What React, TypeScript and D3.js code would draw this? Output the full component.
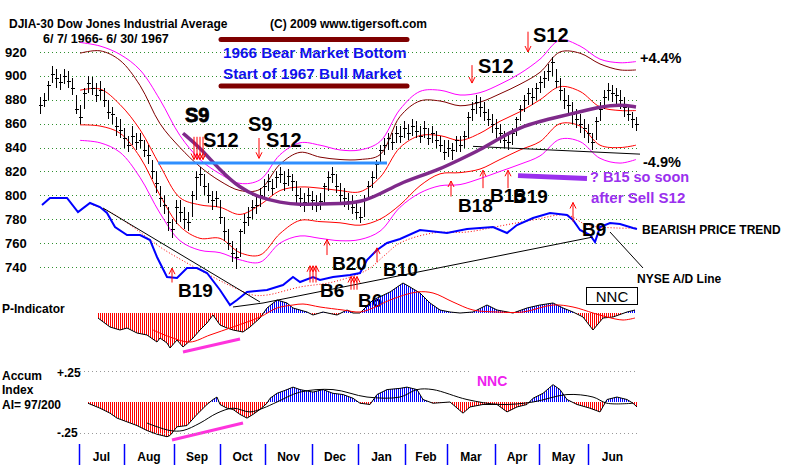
import React, { Component } from "react";
import * as d3 from "d3";

// DJIA bars, Jun 7 1966 - Jun 30 1967
const highs = [
  882, 886, 896, 908, 906, 902, 906, 904, 898, 884,
  876, 890, 900, 899, 894, 896, 890, 880, 874, 866,
  864, 856, 850, 858, 852, 852, 846, 842, 830, 820,
  808, 800, 790, 780, 796, 796, 790, 786, 804, 820,
  824, 818, 810, 804, 804, 796, 782, 772, 762, 756,
  772, 784, 790, 796, 800, 806, 814, 818, 814, 820,
  824, 820, 822, 818, 812, 806, 802, 806, 804, 800,
  802, 810, 820, 824, 818, 810, 806, 802, 800, 794,
  790, 800, 812, 820, 830, 842, 848, 852, 852, 858,
  858, 862, 860, 864, 862, 858, 862, 856, 858, 854,
  850, 846, 846, 844, 850, 850, 854, 870, 878, 884,
  882, 878, 872, 868, 864, 860, 854, 852, 856, 866,
  876, 884, 890, 890, 894, 900, 904, 910, 916, 906,
  898, 890, 884, 878, 872, 868, 864, 860, 852, 866,
  878, 888, 894, 892, 890, 888, 882, 876, 870, 866,
];
const lows = [
  868, 874, 880, 894, 890, 888, 893, 890, 884, 868,
  860, 872, 886, 884, 878, 880, 874, 864, 860, 850,
  848, 840, 836, 842, 838, 840, 832, 826, 814, 802,
  790, 784, 770, 764, 776, 778, 772, 770, 782, 796,
  808, 800, 794, 788, 790, 776, 762, 754, 744, 738,
  748, 768, 774, 780, 784, 790, 798, 804, 800, 806,
  810, 804, 808, 804, 794, 790, 786, 792, 788, 786,
  788, 794, 804, 810, 802, 794, 790, 788, 784, 780,
  777, 782, 796, 806, 814, 826, 834, 838, 838, 844,
  844, 848, 846, 850, 848, 844, 848, 842, 844, 840,
  836, 830, 832, 830, 836, 836, 840, 848, 862, 868,
  866, 862, 858, 852, 848, 844, 840, 838, 842, 850,
  862, 870, 876, 876, 880, 886, 890, 896, 900, 890,
  880, 872, 868, 860, 856, 852, 848, 844, 838, 846,
  862, 872, 880, 878, 876, 872, 866, 862, 856, 854,
];
const closes = [
  876, 880, 892, 902, 898, 895, 900, 896, 890, 872,
  866, 886, 894, 890, 884, 888, 880, 870, 868, 858,
  855, 848, 842, 850, 845, 846, 838, 834, 820, 810,
  798, 792, 778, 772, 790, 786, 780, 778, 800, 815,
  818, 808, 800, 796, 798, 782, 770, 760, 752, 748,
  770, 778, 782, 790, 792, 800, 808, 812, 806, 815,
  818, 810, 816, 812, 800, 798, 794, 800, 796, 792,
  795, 808, 815, 818, 808, 800, 798, 795, 790, 786,
  782, 796, 808, 815, 826, 838, 842, 848, 845, 852,
  850, 856, 852, 858, 854, 850, 856, 848, 852, 846,
  842, 836, 840, 838, 846, 842, 850, 866, 872, 878,
  874, 870, 864, 860, 856, 852, 846, 845, 852, 864,
  872, 880, 886, 882, 890, 895, 898, 904, 912, 896,
  888, 880, 876, 868, 864, 860, 856, 852, 845, 862,
  872, 882, 888, 886, 884, 880, 874, 868, 864, 860,
];

const priceTicks = [920, 900, 880, 860, 840, 820, 800, 780, 760, 740];
const monthNames = ["Jul", "Aug", "Sep", "Oct", "Nov", "Dec", "Jan", "Feb", "Mar", "Apr", "May", "Jun"];
const monthStarts = [9.75, 21, 33.5, 45, 56.25, 68, 79.5, 91.25, 101.75, 113.75, 124.75, 137];
const lastDay = 149.25;

// percentage bands around the 21-day average
const bandDays = [10, 15, 20, 25, 30, 35, 40, 45, 50, 55, 60, 65, 70, 75, 80, 85, 90, 95, 100, 105, 110, 115, 120, 125, 130, 135, 140, 145, 149];
const magentaUpper = [928, 925, 918, 905, 880, 850, 830, 818, 810, 813, 834, 844, 842, 838, 838, 845, 872, 887, 888, 884, 886, 893, 902, 914, 930, 925, 914, 911, 912];
const maroonUpper = [919, 921, 913, 892, 860, 840, 824, 812, 804, 805, 826, 836, 832, 830, 830, 834, 866, 879, 879, 875, 878, 885, 893, 903, 920, 919, 910, 905, 905];
const redUpper = [888, 889, 876, 855, 825, 798, 792, 790, 784, 792, 804, 807, 806, 804, 803, 815, 840, 850, 850, 846, 852, 862, 870, 880, 891, 887, 874, 871, 871];
const redLower = [859, 858, 852, 832, 800, 774, 764, 764, 752, 750, 768, 779, 778, 777, 775, 780, 792, 808, 818, 819, 822, 830, 838, 845, 860, 858, 842, 840, 842];
const magentaLower = [846, 844, 836, 815, 785, 762, 754, 752, 746, 744, 760, 766, 764, 762, 763, 770, 790, 802, 808, 809, 814, 820, 826, 833, 847, 845, 831, 827, 830];

// 65-day moving average
const maDays = [35.75, 40, 45, 50, 55, 60, 65, 70, 75, 80, 85, 90, 95, 100, 105, 110, 115, 120, 125, 130, 135, 140, 145, 149];
const maValues = [852, 840, 821, 806, 798, 794, 792, 793, 793, 794, 801, 810, 816, 822, 830, 838, 848, 857, 862, 866, 870, 874, 876, 874];

// NYSE A/D line and its average
const adDays = [0.5, 2.5, 6.75, 9.5, 12.5, 15, 16.75, 18.75, 21.75, 25, 27.5, 29.25, 31.75, 34.25, 36.75, 39.25, 41.75, 45, 47.5, 49.25, 51.75, 56.75, 60.75, 63.25, 65, 68.25, 70, 73.25, 77.5, 80, 81.75, 84.25, 86.75, 90, 95, 101.75, 106.75, 113.25, 116.75, 119.25, 123.25, 127.5, 131.75, 133.25, 135, 137.5, 138.75, 140, 142.5, 145, 148.25, 149.25];
const adValues = [105, 112, 112, 98, 107, 103, 97, 83, 75, 75, 70, 53, 33, 32, 42, 42, 37, 20, 5, 10, 18, 20, 25, 33, 28, 33, 30, 33, 35, 37, 50, 60, 67, 71, 80, 77, 81, 83, 77, 85, 92, 97, 95, 90, 80, 75, 68, 83, 87, 86, 82, 81];
const adMaDays = [13.25, 17.5, 23.25, 30, 36.75, 43.25, 48.25, 53.25, 56.75, 65, 73.25, 81.75, 86.25, 90, 98.25, 106.75, 115, 123.25, 131.75, 136.75, 144.25, 149.25];
const adMaValues = [105, 98, 83, 63, 47, 33, 23, 15, 15, 23, 28, 40, 55, 67, 77, 78, 84, 90, 95, 85, 82, 82];

// P-Indicator and its average
const pDays = [14.5, 17.5, 20, 21.75, 24.25, 26.75, 29.25, 30, 31.75, 32.5, 34.25, 35.75, 38.25, 40, 41.75, 43.25, 45, 46.75, 48.25, 50.75, 52.5, 55, 56.75, 59.25, 61.75, 63.25, 66.75, 68.25, 70.75, 74.25, 76.75, 78.25, 80, 83.25, 87.5, 90.75, 92.5, 95, 97.5, 100, 102.5, 105, 108.25, 111.75, 114.25, 118.25, 121.75, 125, 128.25, 130.75, 133.25, 135.75, 138.25, 140.75, 143.25, 146.75, 148.75];
const pValues = [-5, -14, -17, -15, -20, -22, -29, -25, -30, -35, -27, -34, -25, -17, -10, -2, -12, -15, -17, -19, -14, -5, 5, 13, 10, 5, 1, -2, 1, -2, 3, 0, 0, 13, 21, 30, 26, 20, 10, 3, 1, 0, 1, 8, 3, 0, 5, 8, 10, 5, 1, -4, -17, -5, -4, 1, 3];
const pMaDays = [28.25, 32.5, 37.5, 42.5, 48.25, 55, 59.25, 63.25, 65.75, 70, 75.75, 80, 83.25, 87.5, 94.25, 98.25, 103.25, 108.25, 114.25, 120.75, 128.25, 133.25, 138.25, 141.75, 145.75, 148.75];
const pMaValues = [-17, -24, -29, -22, -14, -4, 5, 8, 9, 6, 3, 1, 5, 13, 21, 20, 11, 3, 1, 1, 8, 6, 0, -4, -7, -5];

// Accumulation Index and its average
const aiDays = [12, 15, 17.5, 19.25, 21.75, 24.25, 26.75, 29.25, 31.75, 32.5, 34.25, 36.75, 39.25, 41.75, 43.25, 44.25, 45, 46.75, 48.25, 50, 51.75, 53.25, 55, 56.75, 57.5, 59.25, 61.75, 63.25, 65, 68.25, 70.75, 73.25, 75.75, 78.25, 80, 82.5, 84.25, 86.75, 90, 91.75, 94.25, 95.75, 98.25, 102.5, 105.75, 107.5, 110.75, 114.25, 116.75, 119.25, 121.75, 123.25, 125.75, 128.25, 130, 131.75, 134.25, 137.5, 140, 141.75, 144.25, 146.75, 148.25, 149.25];
const aiValues = [-0.01, -0.05, -0.09, -0.13, -0.16, -0.19, -0.23, -0.26, -0.28, -0.27, -0.2, -0.19, -0.1, -0.02, 0.02, 0.04, -0.02, -0.05, -0.06, -0.1, -0.13, -0.1, -0.06, -0.01, 0.03, 0.07, 0.1, 0.12, 0.1, 0.08, 0.1, 0.07, 0.06, 0.03, -0.01, -0.02, 0.06, 0.1, 0.11, 0.12, 0.1, 0.02, -0.01, 0, -0.09, -0.04, -0.02, -0.02, -0.08, -0.04, -0.02, 0.03, 0.07, 0.14, 0.1, 0.02, -0.02, -0.05, -0.08, 0.02, 0.04, 0.02, -0.01, -0.04];
const aiMaDays = [26.75, 32.5, 35.75, 40, 44.25, 48.25, 52.5, 55.75, 59.25, 65, 73.25, 81.75, 90, 94.25, 98.25, 106.75, 115, 123.25, 131.75, 138.25, 141.75, 148.25];
const aiMaValues = [-0.17, -0.23, -0.23, -0.17, -0.09, -0.05, -0.08, -0.05, 0, 0.08, 0.1, 0.04, 0.04, 0.1, 0.1, 0.02, -0.02, 0, 0.06, 0.04, -0.01, -0.01];

// Peerless signals: [day, from, to] on the price scale
const sellArrows = [[38.5, 849, 830], [39.25, 849, 830], [40, 849, 830], [40.75, 849, 830], [54.75, 848, 831], [108, 909, 894], [122, 937, 920]];
const buyArrows = [[33, 727, 739], [67.5, 727, 741], [68.25, 727, 741], [69, 727, 741], [71.75, 750, 763], [77.75, 721, 732], [78.5, 721, 732], [79.25, 721, 732], [84.25, 744, 756], [102.75, 799, 812], [110.75, 806, 821], [117, 806, 821], [133.25, 778, 794]];

const FONT = "'Liberation Sans', Arial, sans-serif";

class App extends Component {
  svgRef = React.createRef<SVGSVGElement>();

  componentDidMount() {
    this.renderChart();
  }

  componentDidUpdate() {
    this.renderChart();
  }

  renderChart() {
    const svg = d3.select(this.svgRef.current);
    svg.selectAll("*").remove();
    svg.style("font-family", FONT);

    const x = d3.scaleLinear().domain([0, 149]).range([40, 636]);
    const py = d3.scaleLinear().domain([740, 920]).range([267, 52]);
    const ady = d3.scaleLinear().domain([0, 110]).range([310, 200]);
    const pIy = d3.scaleLinear().domain([-40, 40]).range([353, 273]);
    const aiy = d3.scaleLinear().domain([-0.25, 0.25]).range([433, 371]);

    const text = (tx: number, ty: number, s: string, size: number, fill = "#000", weight = "bold") =>
      svg.append("text")
        .attr("x", tx)
        .attr("y", ty)
        .attr("font-size", size)
        .attr("font-weight", weight)
        .attr("fill", fill)
        .text(s);

    // hatch patterns for the indicator histograms
    const defs = svg.append("defs");
    [["redHatch", "#ff0000"], ["blueHatch", "#0000ff"]].forEach(([id, c]) => {
      defs.append("pattern")
        .attr("id", id)
        .attr("width", 2)
        .attr("height", 4)
        .attr("patternUnits", "userSpaceOnUse")
        .append("rect")
        .attr("width", 1)
        .attr("height", 4)
        .attr("fill", c);
    });
    const clip = (id: string, y0: number, y1: number) =>
      defs.append("clipPath").attr("id", id)
        .append("rect").attr("x", 0).attr("y", y0).attr("width", 800).attr("height", y1 - y0);
    clip("pAbove", 250, pIy(0));
    clip("pBelow", pIy(0), 365);
    clip("aiAbove", 360, aiy(0));
    clip("aiBelow", aiy(0), 445);

    // header
    text(9, 28, "DJIA-30  Dow Jones Industrial Average", 12);
    text(270, 28, "(C) 2009 www.tigersoft.com", 12);
    text(43, 43, "6/ 7/ 1966- 6/ 30/ 1967", 12.5);

    [39.5, 86].forEach(yy => {
      svg.append("line")
        .attr("x1", 221).attr("x2", 407)
        .attr("y1", yy).attr("y2", yy)
        .attr("stroke", "#7f0000")
        .attr("stroke-width", 5)
        .attr("stroke-linecap", "round");
    });
    text(223, 58, "1966 Bear Market Bottom", 15.3, "#1010ee");
    text(223, 79, "Start of 1967 Bull Market", 15.3, "#1010ee");

    // price grid
    priceTicks.forEach(p => {
      svg.append("line")
        .attr("x1", 40).attr("x2", 637)
        .attr("y1", Math.round(py(p)) + 0.5).attr("y2", Math.round(py(p)) + 0.5)
        .attr("stroke", "#2f8f2f")
        .attr("stroke-dasharray", "1,3");
      text(5, py(p) + 4.5, String(p), 13);
    });

    const curve = (days: number[], vals: number[], yScale: any, color: string, width: number, dash?: string, c: any = d3.curveCatmullRom.alpha(0.5)) => {
      const line = d3.line<number>()
        .x((_, i) => x(days[i]))
        .y(v => yScale(v))
        .curve(c);
      const path = svg.append("path")
        .attr("d", line(vals))
        .attr("fill", "none")
        .attr("stroke", color)
        .attr("stroke-width", width);
      if (dash) path.attr("stroke-dasharray", dash);
      return path;
    };

    // bands
    curve(bandDays, magentaUpper, py, "#ff00ff", 1);
    curve(bandDays, maroonUpper, py, "#800000", 1);
    curve(bandDays, redUpper, py, "#ff0000", 1);
    curve(bandDays, redLower, py, "#ff0000", 1);
    curve(bandDays, magentaLower, py, "#ff00ff", 1);

    // A/D line
    curve(adMaDays, adMaValues, ady, "#ff0000", 1, "1,2");
    curve(adDays, adValues, ady, "#0000ff", 2, undefined, d3.curveLinear);

    // trendlines
    const seg = (d1: number, v1: number, d2: number, v2: number, yScale: any, color = "#000", w = 1) =>
      svg.append("line")
        .attr("x1", x(d1)).attr("y1", yScale(v1))
        .attr("x2", x(d2)).attr("y2", yScale(v2))
        .attr("stroke", color)
        .attr("stroke-width", w);
    seg(15.75, 102, 55, 8, ady);
    seg(48.25, 3, 55.75, 7, ady);
    seg(55.75, 7, 138.25, 73, ady);
    seg(142.5, 78, 150.75, 42, ady);
    seg(108.25, 841, 150, 834.5, py);

    // price bars
    const bars = svg.append("g").attr("shape-rendering", "crispEdges");
    closes.forEach((c, i) => {
      const bx = Math.round(x(i)) + 0.5;
      bars.append("line")
        .attr("x1", bx).attr("x2", bx)
        .attr("y1", py(highs[i])).attr("y2", py(lows[i]))
        .attr("stroke", "#000");
      bars.append("line")
        .attr("x1", bx - 1.5).attr("x2", bx + 2)
        .attr("y1", Math.round(py(c)) + 0.5).attr("y2", Math.round(py(c)) + 0.5)
        .attr("stroke", "#000");
    });

    // 65-day average
    curve(maDays, maValues, py, "#7f2a8a", 3.5, undefined, d3.curveBasis);

    // resistance line and note line
    seg(29.5, 827, 86.75, 827, py, "#2f8fff", 3);
    seg(119.5, 816.5, 136.75, 814, py, "#9a30ee", 5);

    // signal arrows
    const arrow = (day: number, from: number, to: number) => {
      const ax = x(day);
      const y1 = py(from);
      const y2 = py(to);
      const back = y2 > y1 ? -6 : 6;
      svg.append("line")
        .attr("x1", ax).attr("x2", ax)
        .attr("y1", y1).attr("y2", y2)
        .attr("stroke", "#ff0000");
      svg.append("polyline")
        .attr("points", `${ax - 3},${y2 + back} ${ax},${y2} ${ax + 3},${y2 + back}`)
        .attr("fill", "none")
        .attr("stroke", "#ff0000");
    };
    sellArrows.forEach(([d, f, t]) => arrow(d, f, t));
    buyArrows.forEach(([d, f, t]) => arrow(d, f, t));

    // signal labels
    text(185, 122, "S9", 20).attr("stroke", "#000").attr("stroke-width", 0.8);
    text(203, 147, "S12", 20);
    text(248, 131, "S9", 20);
    text(266, 147, "S12", 20);
    text(478, 73, "S12", 20);
    text(533, 42, "S12", 20);
    text(640, 63, "+4.4%", 14.5);
    text(643, 167, "-4.9%", 14.5);
    text(590, 182, "? B15 so soon", 14.5, "#9a30ee");
    text(591, 203, "after Sell S12", 15, "#9a30ee");
    text(458, 212, "B18", 19);
    text(490, 202, "B15", 19);
    text(513, 203, "B19", 19);
    text(582, 236, "B9", 19);
    text(642, 234, "BEARISH PRICE TREND", 12);
    text(637, 283, "NYSE A/D Line", 12);
    text(178, 297, "B19", 19);
    text(332, 270, "B20", 19);
    text(320, 297, "B6", 19);
    text(358, 307, "B6", 19);
    text(383, 276, "B10", 19);

    // P-Indicator
    const pArea = d3.area<number>()
      .x((_, i) => x(pDays[i]))
      .y0(pIy(0))
      .y1(v => pIy(v));
    svg.append("path").attr("d", pArea(pValues)).attr("fill", "url(#redHatch)").attr("clip-path", "url(#pBelow)");
    svg.append("path").attr("d", pArea(pValues)).attr("fill", "url(#blueHatch)").attr("clip-path", "url(#pAbove)");
    curve(pDays, pValues, pIy, "#000", 1, undefined, d3.curveLinear);
    curve(pMaDays, pMaValues, pIy, "#ff0000", 1);
    seg(35.75, -39, 50, -26, pIy, "#ff33dd", 3);

    text(2, 313, "P-Indicator", 12);
    svg.append("rect")
      .attr("x", 586.5).attr("y", 287.5)
      .attr("width", 51).attr("height", 17)
      .attr("fill", "#fff")
      .attr("stroke", "#000");
    text(612, 301.5, "NNC", 15, "#000", "normal").attr("text-anchor", "middle");

    // Accumulation Index
    const aiArea = d3.area<number>()
      .x((_, i) => x(aiDays[i]))
      .y0(aiy(0))
      .y1(v => aiy(v));
    svg.append("path").attr("d", aiArea(aiValues)).attr("fill", "url(#redHatch)").attr("clip-path", "url(#aiBelow)");
    svg.append("path").attr("d", aiArea(aiValues)).attr("fill", "url(#blueHatch)").attr("clip-path", "url(#aiAbove)");
    curve(aiDays, aiValues, aiy, "#000", 1, undefined, d3.curveLinear);
    curve(aiMaDays, aiMaValues, aiy, "#000", 1);
    seg(33, -0.306, 50.75, -0.169, aiy, "#ff33dd", 3);

    [[80, 470, 0.25], [522, 637, 0.25], [80, 637, -0.25]].forEach(([a, b, v]) => {
      svg.append("line")
        .attr("x1", a).attr("x2", b)
        .attr("y1", Math.round(aiy(v)) + 0.5).attr("y2", Math.round(aiy(v)) + 0.5)
        .attr("stroke", "#999")
        .attr("stroke-dasharray", "1,3");
    });
    text(2, 380, "Accum", 12);
    text(2, 394, "Index", 12);
    text(2, 409, "AI= 97/200", 12);
    text(57, 377, "+.25", 12);
    text(57, 437, "-.25", 12);
    text(477, 386, "NNC", 14, "#ee22ee");

    // month axis
    monthStarts.forEach((d, i) => {
      const mx = Math.round(x(d)) + 0.5;
      svg.append("line")
        .attr("x1", mx).attr("x2", mx)
        .attr("y1", 444).attr("y2", 465)
        .attr("stroke", "#0000ff")
        .attr("stroke-width", 1.5);
      const next = i < monthStarts.length - 1 ? monthStarts[i + 1] : lastDay;
      text(x((d + next) / 2), 461, monthNames[i], 12).attr("text-anchor", "middle");
    });
  }

  render() {
    return (
      <svg
        ref={this.svgRef}
        width={800}
        height={465}
        style={{ position: "absolute", left: 0, top: 0, background: "#fff" }}
      />
    );
  }
}

export default App;
